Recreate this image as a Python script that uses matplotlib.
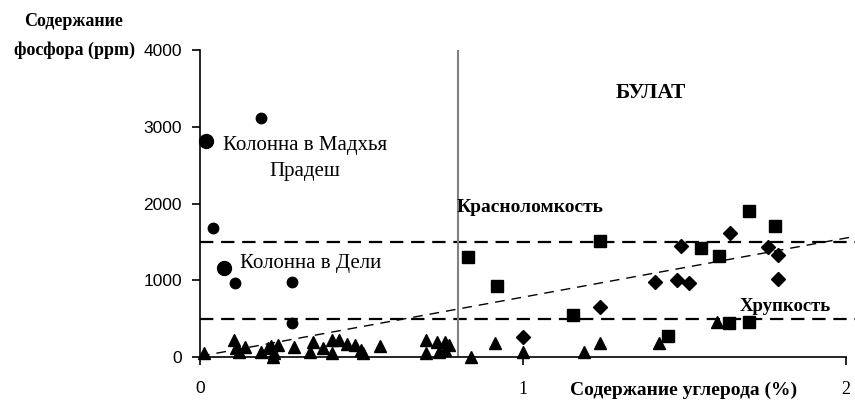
import matplotlib.pyplot as plt

# Колонны (железо)
kol_x = [0.189, 0.04, 0.109, 0.285, 0.285]
kol_y = [3117, 1675, 961, 974, 442]
kol_big_x = [0.019, 0.075]
kol_big_y = [2818, 1156]

# Булат
kv_x = [0.83, 0.92, 1.155, 1.24, 1.45, 1.55, 1.607, 1.638, 1.70, 1.70, 1.78]
kv_y = [1299, 922, 545, 1506, 273, 1416, 1312, 442, 1896, 455, 1701]

romb_x = [1.0, 1.24, 1.41, 1.477, 1.513, 1.49, 1.64, 1.76, 1.79, 1.79]
romb_y = [260, 649, 974, 1000, 961, 1442, 1610, 1429, 1325, 1013]

tri_x = [0.013, 0.105, 0.11, 0.14, 0.12, 0.19, 0.21, 0.22, 0.23, 0.24, 0.225,
         0.29, 0.35, 0.34, 0.38, 0.41, 0.43, 0.41, 0.455, 0.48, 0.50, 0.505,
         0.557, 0.70, 0.70, 0.735, 0.74, 0.76, 0.76, 0.77,
         0.84, 0.913, 1.0, 1.19, 1.24, 1.42, 1.60]
tri_y = [50, 220, 115, 130, 65, 65, 115, 140, 50, 155, 0,
         130, 195, 65, 115, 220, 220, 50, 170, 155, 90, 50,
         140, 220, 50, 195, 65, 195, 90, 155,
         0, 182, 65, 65, 182, 182, 455]

trend_x = [0, 2.03]
trend_y = [10, 1573]

fig = plt.figure(figsize=(8.55, 4.01), dpi=100)
ax = fig.add_axes([200/855, 44/401, 655/855, 307/401])
ax.set_xlim(0, 2.028)
ax.set_ylim(0, 4000)

ax.axhline(1500, color='black', lw=1.6, ls=(0, (6, 3.5)), zorder=1)
ax.axhline(500, color='black', lw=1.6, ls=(0, (6, 3.5)), zorder=1)
ax.plot(trend_x, trend_y, color='black', lw=1.0, ls=(0, (7, 5)), zorder=1)
ax.plot([0.8, 0.8], [0, 4000], color='gray', lw=1.5, zorder=1)

ax.plot(tri_x, tri_y, '^', color='black', ms=8, clip_on=False, zorder=3)
ax.plot(kol_x, kol_y, 'o', color='black', ms=7.5, clip_on=False, zorder=3)
ax.plot(kol_big_x, kol_big_y, 'o', color='black', ms=10, clip_on=False, zorder=3)
ax.plot(kv_x, kv_y, 's', color='black', ms=8, clip_on=False, zorder=3)
ax.plot(romb_x, romb_y, 'D', color='black', ms=7.5, clip_on=False, zorder=3)

for s in ['top', 'right']:
    ax.spines[s].set_visible(False)
ax.spines['bottom'].set_bounds(0, 2)
ax.spines['left'].set_linewidth(1.2)
ax.spines['bottom'].set_linewidth(1.2)

ax.set_yticks([0, 1000, 2000, 3000, 4000])
ax.set_xticks([0, 1, 2])
ax.tick_params(axis='y', direction='out', length=6, width=1.2, pad=7,
               labelsize=12.5)
ax.tick_params(axis='x', direction='out', length=6, width=1.2, pad=11,
               labelsize=13)
for lab in ax.get_yticklabels():
    lab.set_family('Liberation Sans')
for lab in ax.get_xticklabels():
    lab.set_family('Liberation Serif')
ax.get_xticklabels()[0].set_family('Liberation Sans')
ax.get_xticklabels()[0].set_fontsize(12.5)

serif = 'Liberation Serif'
fig.text(74/855, 1 - 36/401, 'Содержание\nфосфора (ppm)', ha='center',
         va='center', family=serif, fontweight='bold', fontsize=13,
         linespacing=1.8)
ax.text(0.325, 2580, 'Колонна в Мадхья\nПрадеш', ha='center', va='center',
        family=serif, fontsize=15, linespacing=1.5)
ax.text(0.124, 1221, 'Колонна в Дели', ha='left', va='center',
        family=serif, fontsize=15)
ax.text(1.396, 3442, 'БУЛАТ', ha='center', va='center', family=serif,
        fontweight='bold', fontsize=15.5)
ax.text(0.796, 1948, 'Красноломкость', ha='left', va='center', family=serif,
        fontweight='bold', fontsize=14)
ax.text(1.672, 662, 'Хрупкость', ha='left', va='center', family=serif,
        fontweight='bold', fontsize=13.5)
fig.text(684/855, 1 - 390/401, 'Содержание углерода (%)', ha='center',
         va='center', family=serif, fontweight='bold', fontsize=14)

fig.savefig('out.png', dpi=100)
